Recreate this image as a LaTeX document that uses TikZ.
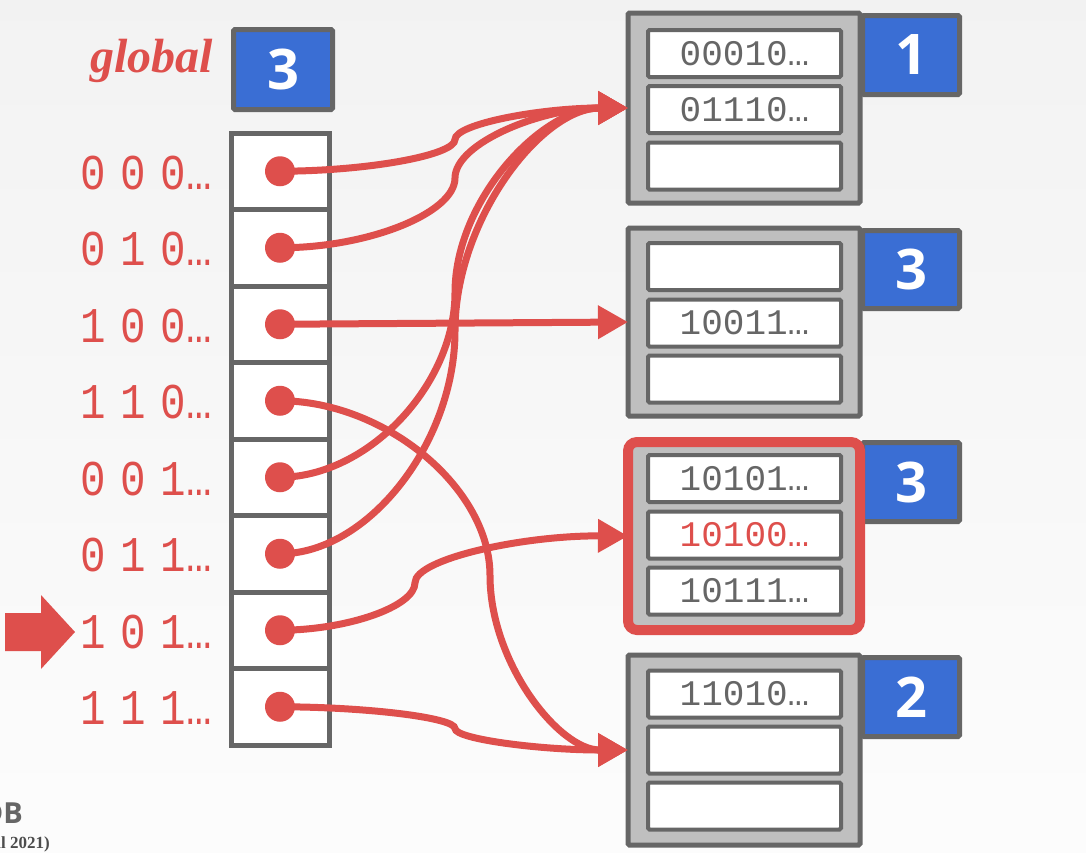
\documentclass[tikz,border=0pt]{standalone}
\usepackage{fontspec}
\usetikzlibrary{arrows.meta}
\newfontfamily\monof{Liberation Mono}
\newfontfamily\numf{Open Sans}
\newfontfamily\serf{Liberation Serif}
\definecolor{cred}{HTML}{DE4F4C}
\definecolor{cblue}{HTML}{3A6ED4}
\definecolor{cbord}{HTML}{666666}
\definecolor{cfill}{HTML}{BFBFBF}
\definecolor{ctext}{HTML}{666666}
\tikzset{
  dircell/.style={draw=cbord, line width=5pt, fill=white, minimum width=98pt, minimum height=76.5pt, inner sep=0pt, outer sep=0pt, anchor=north west},
  depthbox/.style={draw=cbord, line width=5pt, fill=cblue, text=white, font=\numf\bfseries\fontsize{56}{56}\selectfont, minimum width=97pt, minimum height=79pt, inner sep=0pt, anchor=north west, rounded corners=1.5pt},
  bucketbox/.style={draw=cbord, fill=cfill, line width=5pt, minimum width=232pt, minimum height=190pt, inner sep=0pt, outer sep=0pt, anchor=north west, rounded corners=1.5pt},
  slotbox/.style={draw=cbord, fill=white, line width=4pt, minimum width=193pt, minimum height=47pt, inner sep=0pt, font=\monof\fontsize{36}{36}\selectfont, text=ctext, rounded corners=1.5pt},
  lbl/.style={text=cred, font=\monof\fontsize{50}{50}\selectfont, anchor=base east, inner sep=0pt},
  ptr/.style={circle, fill=cred, minimum size=30pt, inner sep=0pt},
  conn/.style={draw=cred, line width=7pt, -{Triangle[length=30pt,width=32pt]}},
}
\newcommand{\lab}[3]{\scalebox{0.85}[1]{#1\hspace{17pt}#2\hspace{17pt}#3…}}
\begin{document}
\begin{tikzpicture}[x=1pt,y=-1pt]
\useasboundingbox (0,0) rectangle (1086,852);
\clip (0,0) rectangle (1086,852);
\shade[top color=black!5, bottom color=black!1] (0,0) rectangle (1086,852);

% footer remnants
\node[anchor=base east, inner sep=0pt, text=cbord, font=\numf\bfseries\fontsize{29}{29}\selectfont] (logo) at (23,823) {DB};
\node[anchor=base east, inner sep=0pt, text=black!70, font=\serf\bfseries\fontsize{17}{17}\selectfont] (course) at (50,848) {(Fall 2021)};

% global depth
\node[text=cred, font=\serf\bfseries\itshape\fontsize{48}{48}\selectfont, anchor=base east, inner sep=0pt] (glabel) at (213,72) {global};
\node[depthbox, minimum width=99pt, minimum height=80pt] (gbox) at (231,27) {3};

% directory
\foreach \i/\a/\b/\c in {1/0/0/0,2/0/1/0,3/1/0/0,4/1/1/0,5/0/0/1,6/0/1/1,7/1/0/1,8/1/1/1}{
  \node[dircell] (c\i) at (231,{133+(\i-1)*76.5}) {};
  \node[ptr] (p\i) at (c\i.center) {};
  \node[lbl] (l\i) at (212,{133+(\i-1)*76.5+38+18}) {\lab{\a}{\b}{\c}};
}

% incoming search arrow
\fill[cred] (5,613) -- (41,613) -- (41,595) -- (75,632) -- (41,669) -- (41,651) -- (5,651) -- cycle;

% local depth boxes
\node[depthbox] (ld1) at (860,13) {1};
\node[depthbox, minimum height=78pt] (ld2) at (860,228) {3};
\node[depthbox] (ld3) at (860,440) {3};
\node[depthbox] (ld4) at (860,655) {2};

% buckets
\node[bucketbox] (b1) at (628,13) {};
\node[bucketbox, minimum height=188pt] (b2) at (628,228) {};
\node[bucketbox, minimum height=188pt, draw=cred, line width=10pt, rounded corners=9pt] (b3) at (628,442) {};
\node[bucketbox] (b4) at (628,655) {};

% slots
\node[slotbox] (s11) at (744.5,53.5) {00010…};
\node[slotbox] (s12) at (744.5,109.5) {01110…};
\node[slotbox] (s13) at (744.5,166) {};
\node[slotbox] (s21) at (744.5,266.5) {};
\node[slotbox] (s22) at (744.5,323) {10011…};
\node[slotbox] (s23) at (744.5,379) {};
\node[slotbox] (s31) at (744.5,478.5) {10101…};
\node[slotbox, text=cred] (s32) at (744.5,535) {10100…};
\node[slotbox] (s33) at (744.5,591) {10111…};
\node[slotbox] (s41) at (744.5,694) {11010…};
\node[slotbox] (s42) at (744.5,750) {};
\node[slotbox] (s43) at (744.5,806) {};

% connectors
\draw[conn] (p1.center) .. controls (368,171) and (455,155.25) .. (455,139.5) .. controls (455,123.75) and (541.5,108) .. (b1.west);
\draw[conn] (p2.center) .. controls (368,248) and (455,213) .. (455,178) .. controls (455,143) and (541.5,108) .. (b1.west);
\draw[conn] (p3.center) -- (b2.west);
\draw[conn] (p4.center) .. controls (385.5,401) and (490,488.25) .. (490,575.5) .. controls (490,662.75) and (559,750) .. (b4.west);
\draw[conn] (p5.center) .. controls (368,477) and (455,384.75) .. (455,292.5) .. controls (455,200.25) and (541.5,108) .. (b1.west);
\draw[conn] (p6.center) .. controls (368,554) and (455,442.5) .. (455,331) .. controls (455,219.5) and (541.5,108) .. (b1.west);
\draw[conn] (p7.center) .. controls (348,630) and (415,606.4) .. (415,582.75) .. controls (415,559.1) and (521.5,535.5) .. (b3.west);
\draw[conn] (p8.center) .. controls (368,707) and (455,717.75) .. (455,728.5) .. controls (455,739.25) and (541.5,750) .. (b4.west);
\end{tikzpicture}
\end{document}
